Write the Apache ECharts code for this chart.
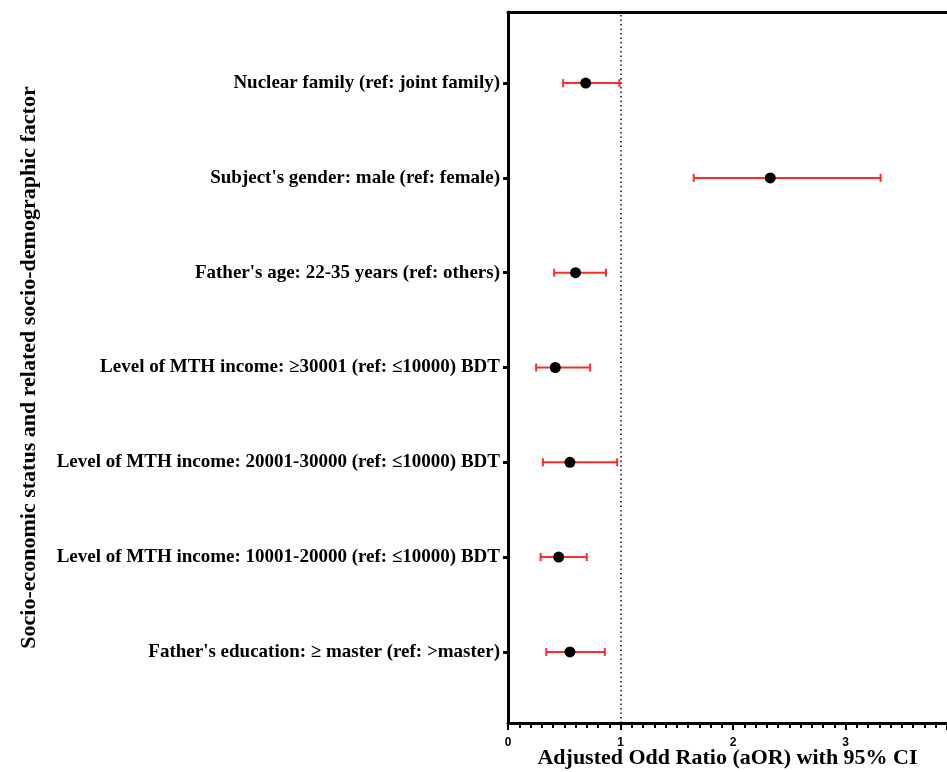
<!DOCTYPE html>
<html lang="en">
<head>
    <meta charset="utf-8"/>
    <script src="https://cdn.jsdelivr.net/npm/echarts@6.0.0/dist/echarts.min.js"></script>
    <title>aOR forest plot</title>
    <style>
        html, body { margin: 0; padding: 0; background: #fff; }
        #main { width: 947px; height: 772px; }
    </style>
</head>
<body>
<div id="main"></div>
<script type="text/javascript">

    // bottom row first (row 1) up to top row (row 7)
    var factors = [
        "Father's education: \u2265 master (ref: >master)",
        "Level of MTH income: 10001-20000 (ref: \u226410000) BDT",
        "Level of MTH income: 20001-30000 (ref: \u226410000) BDT",
        "Level of MTH income: \u226530001 (ref: \u226410000) BDT",
        "Father's age: 22-35 years (ref: others)",
        "Subject's gender: male (ref: female)",
        "Nuclear family (ref: joint family)"
    ];
    var aor   = [0.55, 0.45, 0.55, 0.42, 0.60, 2.33, 0.69];
    var lower = [0.34, 0.29, 0.31, 0.25, 0.41, 1.65, 0.49];
    var upper = [0.86, 0.70, 0.97, 0.73, 0.87, 3.31, 0.99];
    var rows  = [1, 2, 3, 4, 5, 6, 7];
    var xTicks = [0, 1, 2, 3];

    var pointData = [];
    var ciData = [];
    for (var i = 0; i < rows.length; i++) {
        pointData.push([aor[i], rows[i]]);
        ciData.push([lower[i], upper[i], rows[i]]);
    }

    var serif = "'Liberation Serif', 'Times New Roman', serif";
    var myChart = echarts.init(document.getElementById('main'));

    var option = {
        animation: false,
        backgroundColor: '#fff',
        grid: {left: 508, right: 0, top: 12, bottom: 49, containLabel: false, outerBoundsMode: 'none'},
        xAxis: [{
            type: 'value',
            position: 'bottom',
            min: 0,
            max: 3.9,
            interval: 1,
            name: 'Adjusted Odd Ratio (aOR) with 95% CI',
            nameLocation: 'middle',
            nameGap: 24,
            nameMoveOverlap: false,
            nameTextStyle: {fontFamily: serif, fontWeight: 'bold', fontSize: 22, color: '#000'},
            axisLine: {show: true, lineStyle: {color: '#000', width: 3}},
            axisTick: {show: true, length: 7, lineStyle: {color: '#000', width: 2}},
            minorTick: {show: true, splitNumber: 10, length: 5, lineStyle: {color: '#000', width: 2}},
            axisLabel: {
                margin: 14, color: '#000', fontSize: 12, fontWeight: 'bold',
                fontFamily: "'Liberation Sans', Arial, sans-serif",
                customValues: xTicks
            },
            splitLine: {show: false}
        }, {
            type: 'value',
            position: 'top',
            min: 0,
            max: 3.9,
            axisLine: {show: true, onZero: false, lineStyle: {color: '#000', width: 3}},
            axisTick: {show: false},
            axisLabel: {show: false},
            splitLine: {show: false}
        }],
        yAxis: {
            type: 'value',
            min: 0.25,
            max: 7.75,
            name: 'Socio-economic status and related socio-demographic factor',
            nameLocation: 'middle',
            nameGap: 468,
            nameMoveOverlap: false,
            nameTextStyle: {fontFamily: serif, fontWeight: 'bold', fontSize: 22, color: '#000'},
            axisLine: {show: true, lineStyle: {color: '#000', width: 3}},
            axisTick: {show: true, length: 5, lineStyle: {color: '#000', width: 3}, customValues: rows},
            axisLabel: {
                margin: 8, color: '#000', fontSize: 19, fontWeight: 'bold', fontFamily: serif,
                customValues: rows,
                formatter: function (v) { return factors[Math.round(v) - 1]; }
            },
            splitLine: {show: false}
        },
        series: [{
            type: 'custom',
            xAxisIndex: 0,
            data: ciData,
            z: 2,
            renderItem: function (params, api) {
                var y = api.value(2);
                var p1 = api.coord([api.value(0), y]);
                var p2 = api.coord([api.value(1), y]);
                var h = 4;
                var style = {stroke: '#ff2b2b', lineWidth: 2};
                return {
                    type: 'group',
                    children: [
                        {type: 'line', shape: {x1: p1[0], y1: p1[1], x2: p2[0], y2: p2[1]}, style: style},
                        {type: 'line', shape: {x1: p1[0], y1: p1[1] - h, x2: p1[0], y2: p1[1] + h}, style: style},
                        {type: 'line', shape: {x1: p2[0], y1: p2[1] - h, x2: p2[0], y2: p2[1] + h}, style: style}
                    ]
                };
            }
        }, {
            type: 'scatter',
            xAxisIndex: 0,
            data: pointData,
            symbol: 'circle',
            symbolSize: 11,
            itemStyle: {color: '#000', opacity: 1},
            z: 3,
            markLine: {
                silent: true,
                symbol: 'none',
                label: {show: false},
                lineStyle: {color: '#111', type: [1.5, 3], width: 1.5},
                data: [{xAxis: 1}]
            }
        }]
    };
    myChart.setOption(option);

    window.onresize = function () { myChart.resize(); };
</script>
</body>
</html>
